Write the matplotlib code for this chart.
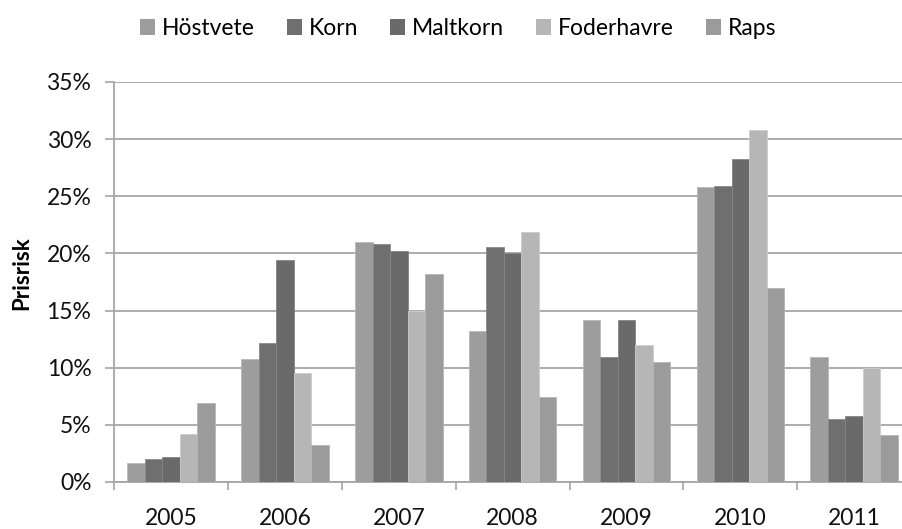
import numpy as np
import matplotlib
matplotlib.use("Agg")
import matplotlib.pyplot as plt
from matplotlib.patches import Patch

years = ["2005", "2006", "2007", "2008", "2009", "2010", "2011"]
series_names = ["Höstvete", "Korn", "Maltkorn", "Foderhavre", "Raps"]
hostvete = [1.7, 10.8, 21.0, 13.2, 14.2, 25.8, 10.9]
korn = [2.05, 12.2, 20.8, 20.6, 10.9, 25.9, 5.5]
maltkorn = [2.2, 19.4, 20.2, 20.0, 14.2, 28.3, 5.8]
foderhavre = [4.2, 9.5, 15.0, 21.9, 12.0, 30.8, 10.0]
raps = [6.9, 3.2, 18.2, 7.4, 10.5, 17.0, 4.1]
y_ticks = [0, 5, 10, 15, 20, 25, 30, 35]

colors = ["#9d9d9d", "#6f6f6f", "#6a6a6a", "#b6b6b6", "#9b9b9b"]
edges = ["#b8b8b8", "#8a8a8a", "#858585", "#cccccc", "#b5b5b5"]

plt.rcParams["font.family"] = ["Lato", "DejaVu Sans"]
FS = 16.5

fig = plt.figure(figsize=(9.02, 5.29), dpi=100)
ax = fig.add_axes([114.3 / 902, 47 / 529, (911 - 114.3) / 902, 400 / 529])

values = [hostvete, korn, maltkorn, foderhavre, raps]
n = len(series_names)
bar_w = 1 / 6.5
x = np.arange(len(years))
for i, (vals, c, ec) in enumerate(zip(values, colors, edges)):
    offs = (i - (n - 1) / 2) * bar_w
    ax.bar(x + offs, vals, width=bar_w, color=c, edgecolor=ec,
           linewidth=0.6, zorder=3)

ax.set_xlim(-0.5, len(years) - 0.5)
ax.set_ylim(0, 35)
ax.set_yticks(y_ticks)
ax.set_yticklabels([f"{t}%" for t in y_ticks], fontsize=FS, color="#111111")
ax.set_xticks(x)
ax.set_xticklabels(years, fontsize=FS, color="#111111")
ax.set_xticks(np.arange(len(years) + 1) - 0.5, minor=True)
ax.tick_params(axis="x", which="major", length=0, pad=18.5)
ax.tick_params(axis="x", which="minor", length=6, width=1.2, color="#a6a6a6")
ax.tick_params(axis="y", length=6.5, width=1.2, color="#a6a6a6", pad=10)

ax.yaxis.grid(True, color="#a6a6a6", linewidth=1.3, zorder=0)
ax.set_axisbelow(True)
for s in ["top", "right"]:
    ax.spines[s].set_visible(False)
for s in ["left", "bottom"]:
    ax.spines[s].set_color("#a6a6a6")
    ax.spines[s].set_linewidth(1.3)

ax.set_ylabel("Prisrisk", fontsize=16, fontweight="bold")
ax.yaxis.set_label_coords(-0.103, 0.522)

handles = [Patch(facecolor=c, edgecolor="none") for c in colors]
fig.legend(handles, series_names, loc="upper center", ncol=5,
           bbox_to_anchor=(0.508, 1.005), frameon=False, fontsize=FS,
           handlelength=0.65, handleheight=0.65, handletextpad=0.3,
           columnspacing=1.4)

fig.savefig("out.png", dpi=100)
